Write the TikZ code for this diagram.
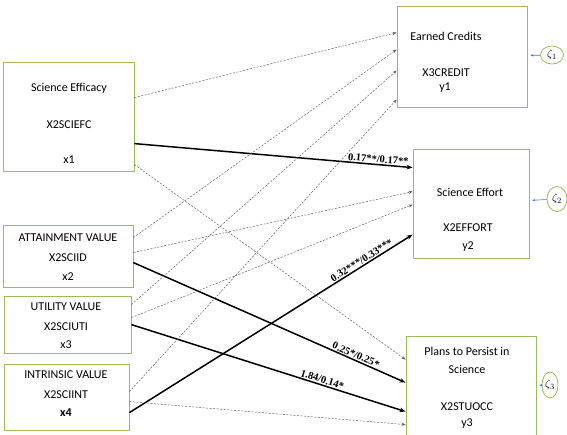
\documentclass[tikz,border=0pt]{standalone}
\usepackage{fontspec}
\setmainfont{Carlito}
\newfontfamily\coeffont{Liberation Serif}
\usepackage{tikz}
\usetikzlibrary{arrows.meta, calc, shapes.geometric}

\definecolor{boxgreen}{RGB}{155,187,89}
\definecolor{zetablue}{RGB}{68,114,196}

\begin{document}
\begin{tikzpicture}[x=1pt, y=-1pt, font=\fontsize{12}{14}\selectfont,
    varbox/.style={draw=boxgreen, line width=0.8pt, inner sep=0pt},
    zeta/.style={ellipse, draw=boxgreen, line width=0.8pt, inner sep=0pt, font=\fontsize{11}{12}\selectfont},
    nspath/.style={-{Stealth[length=4pt,width=3pt]}, gray!75!black, line width=0.5pt, dash pattern=on 2pt off 1.5pt},
    sigpath/.style={-{Stealth[length=6pt,width=4.5pt]}, line width=1.5pt},
    zpath/.style={-{Stealth[length=3pt,width=2.5pt]}, zetablue, line width=0.6pt, shorten >=3pt},
    coef/.style={font=\coeffont\bfseries\fontsize{10.5}{12}\selectfont, sloped, above, inner sep=1pt}]
    \useasboundingbox (0,0) rectangle (567,435);
    % Predictors (left)
    \node[varbox, minimum width=131pt, minimum height=109pt] (eff)  at (68.5,116.5) {};
    \node[varbox, minimum width=130pt, minimum height=62pt]  (att)  at (68,256) {};
    \node[varbox, minimum width=127pt, minimum height=57pt]  (uti)  at (67.5,324.5) {};
    \node[varbox, minimum width=125pt, minimum height=66pt]  (intr) at (66.5,397) {};
    % Outcomes (right)
    \node[varbox, minimum width=130pt, minimum height=101pt] (cred)   at (462,56.5) {};
    \node[varbox, minimum width=116pt, minimum height=109pt] (effort) at (471,203.5) {};
    \node[varbox, minimum width=130pt, minimum height=102pt] (plans)  at (471,387) {};
    % Box texts
    \foreach \nm/\x/\y/\txt in {
        eff1/69/88/Science Efficacy, eff2/69/125/X2SCIEFC, eff3/69/160/x1,
        att1/68/238/ATTAINMENT VALUE, att2/68/258/X2SCIID, att3/68/277/x2,
        uti1/66/307/UTILITY VALUE, uti2/66/327/X2SCIUTI, uti3/66/345/x3,
        intr1/66/375/INTRINSIC VALUE, intr2/66/395/X2SCIINT, intr3/66/413/{\bfseries x4},
        cred1/446/36/Earned Credits, cred2/446/73/X3CREDIT, cred3/445/88/y1,
        effort1/470/192/Science Effort, effort2/468/228/X2EFFORT, effort3/468/247/y2,
        plans1/467/351/Plans to Persist in, plans2/467/369/Science,
        plans3/467/407/X2STUOCC, plans4/467/424/y3}
      \node (\nm) at (\x,\y) {\txt};
    % Disturbances
    \node[zeta, minimum width=23pt, minimum height=18pt] (z1) at (552,55)  {$\zeta_1$};
    \node[zeta, minimum width=20pt, minimum height=25pt] (z2) at (557,199) {$\zeta_2$};
    \node[zeta, minimum width=16pt, minimum height=26pt] (z3) at (550,385) {$\zeta_3$};
    \draw[zpath] (z1) -- (cred);
    \draw[zpath] (z2) -- (effort);
    \draw[zpath] (z3) -- (plans);
    % Science Efficacy paths
    \draw[nspath]  ($(eff.north east)+(0,36)$)  -- ($(cred.north west)+(0,27)$);
    \draw[sigpath] ($(eff.north east)+(0,82)$)  -- ($(effort.north west)+(0,19)$)
      node[coef, pos=0.875] (c1) {0.17**/0.17**};
    \draw[nspath]  ($(eff.north east)+(0,103)$) -- ($(plans.north west)+(0,24)$);
    % Attainment value paths
    \draw[nspath]  ($(att.north east)+(0,13)$) -- ($(cred.north west)+(0,44)$);
    \draw[nspath]  ($(att.north east)+(0,28)$) -- ($(effort.north west)+(0,43)$);
    \draw[sigpath] ($(att.north east)+(0,38)$) -- ($(plans.north west)+(0,47)$)
      node[coef, pos=0.81] (c3) {0.25*/0.25*};
    % Utility value paths
    \draw[nspath]  ($(uti.north east)+(0,9)$)  -- ($(cred.north west)+(0,65)$);
    \draw[nspath]  ($(uti.north east)+(0,22)$) -- ($(effort.north west)+(0,56)$);
    \draw[sigpath] ($(uti.north east)+(0,29)$) -- ($(plans.north west)+(0,76)$)
      node[coef, pos=0.69] (c4) {1.84/0.14*};
    % Intrinsic value paths
    \draw[nspath]  ($(intr.north east)+(0,28)$) -- ($(cred.north west)+(0,94)$);
    \draw[sigpath] ($(intr.north east)+(0,49)$) -- ($(effort.north west)+(0,86)$)
      node[coef, pos=0.83] (c2) {0.32***/0.33***};
    \draw[nspath]  ($(intr.north east)+(0,38)$) -- ($(plans.north west)+(0,89)$);
\end{tikzpicture}
\end{document}
